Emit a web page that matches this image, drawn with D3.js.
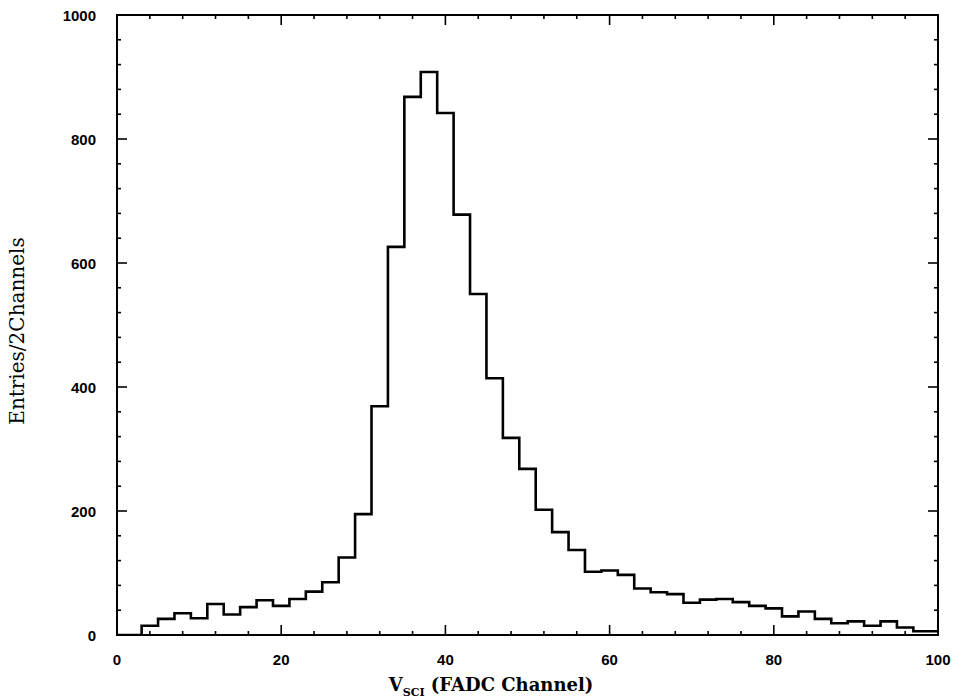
<!DOCTYPE html>
<html>
<head>
<meta charset="utf-8">
<script src="https://cdn.jsdelivr.net/npm/d3@7"></script>
<style>
  body { margin: 0; background: #fff; }
  svg { display: block; }
</style>
</head>
<body>
<div id="chart"></div>
<script>
// bins are 2 channels wide, the value is the left edge of each bin
const binStarts = [1, 3, 5, 7, 9, 11, 13, 15, 17, 19, 21, 23, 25, 27, 29, 31, 33, 35, 37, 39,
  41, 43, 45, 47, 49, 51, 53, 55, 57, 59, 61, 63, 65, 67, 69, 71, 73, 75, 77, 79,
  81, 83, 85, 87, 89, 91, 93, 95, 97, 99];
const entries = [0, 15, 26, 35, 27, 50, 33, 45, 56, 47, 58, 70, 85, 125, 195, 369, 626, 868, 908, 842,
  678, 550, 414, 318, 268, 202, 166, 137, 102, 104, 97, 75, 69, 66, 52, 57, 58, 53, 47, 43,
  30, 38, 26, 19, 22, 15, 22, 12, 6, 6];
const xTicks = [0, 20, 40, 60, 80, 100];
const yTicks = [0, 200, 400, 600, 800, 1000];

function draw() {
  const width = 954, height = 698;
  const margin = {top: 15, right: 16, bottom: 63, left: 117};

  const svg = d3.select("#chart").append("svg")
    .attr("width", width)
    .attr("height", height);

  const x = d3.scaleLinear().domain([0, 100]).range([margin.left, width - margin.right]);
  const y = d3.scaleLinear().domain([0, 1000]).range([height - margin.bottom, margin.top]);

  const tickFont = "'Liberation Sans', Arial, sans-serif";
  const titleFont = "'DejaVu Serif', 'Liberation Serif', serif";

  // histogram outline
  const pts = binStarts.map((b, i) => [b, entries[i]]);
  pts.unshift([0, 0]);
  pts.push([100, entries[entries.length - 1]]);

  svg.append("defs").append("clipPath").attr("id", "clip")
    .append("rect")
    .attr("x", x(0)).attr("y", y(1000))
    .attr("width", x(100) - x(0)).attr("height", y(0) - y(1000));

  const line = d3.line()
    .x(d => x(d[0]))
    .y(d => y(d[1]))
    .curve(d3.curveStepAfter);

  svg.append("path")
    .datum(pts)
    .attr("clip-path", "url(#clip)")
    .attr("fill", "none")
    .attr("stroke", "#000")
    .attr("stroke-width", 2.6)
    .attr("d", line);

  // inward ticks on all four sides
  const g = svg.append("g").attr("stroke", "#000");
  const xMinor = d3.range(0, 101, 4);
  const yMinor = d3.range(0, 1001, 40);

  xMinor.forEach(v => {
    const len = v % 20 === 0 ? 10 : 4;
    g.append("line").attr("x1", x(v)).attr("x2", x(v))
      .attr("y1", y(0)).attr("y2", y(0) - len).attr("stroke-width", 1.6);
    g.append("line").attr("x1", x(v)).attr("x2", x(v))
      .attr("y1", y(1000)).attr("y2", y(1000) + len).attr("stroke-width", 1.6);
  });
  yMinor.forEach(v => {
    const len = v % 200 === 0 ? 10 : 4;
    g.append("line").attr("y1", y(v)).attr("y2", y(v))
      .attr("x1", x(0)).attr("x2", x(0) + len).attr("stroke-width", 1.6);
    g.append("line").attr("y1", y(v)).attr("y2", y(v))
      .attr("x1", x(100)).attr("x2", x(100) - len).attr("stroke-width", 1.6);
  });

  // frame
  svg.append("rect")
    .attr("x", x(0)).attr("y", y(1000))
    .attr("width", x(100) - x(0)).attr("height", y(0) - y(1000))
    .attr("fill", "none")
    .attr("stroke", "#000")
    .attr("stroke-width", 2);

  // tick labels
  svg.append("g").selectAll("text")
    .data(xTicks)
    .join("text")
    .attr("x", d => x(d))
    .attr("y", y(0) + 30)
    .attr("text-anchor", "middle")
    .attr("font-family", tickFont)
    .attr("font-weight", "bold")
    .attr("font-size", 15)
    .text(d => d);

  svg.append("g").selectAll("text")
    .data(yTicks)
    .join("text")
    .attr("x", x(0) - 21)
    .attr("y", d => y(d) + 6)
    .attr("text-anchor", "end")
    .attr("font-family", tickFont)
    .attr("font-weight", "bold")
    .attr("font-size", 15)
    .text(d => d);

  // axis titles
  svg.append("text")
    .attr("transform", `translate(24, ${(y(0) + y(1000)) / 2 + 6}) rotate(-90)`)
    .attr("text-anchor", "middle")
    .attr("font-family", titleFont)
    .attr("font-size", 20)
    .text("Entries/2Channels");

  const xt = svg.append("text")
    .attr("x", 491)
    .attr("y", 691)
    .attr("text-anchor", "middle")
    .attr("font-family", titleFont)
    .attr("font-weight", "bold")
    .attr("font-size", 18);
  xt.append("tspan").text("V");
  xt.append("tspan").attr("font-size", 11).attr("dy", 5).text("SCI");
  xt.append("tspan").attr("dy", -5).text(" (FADC Channel)");
}
draw();
</script>
</body>
</html>
